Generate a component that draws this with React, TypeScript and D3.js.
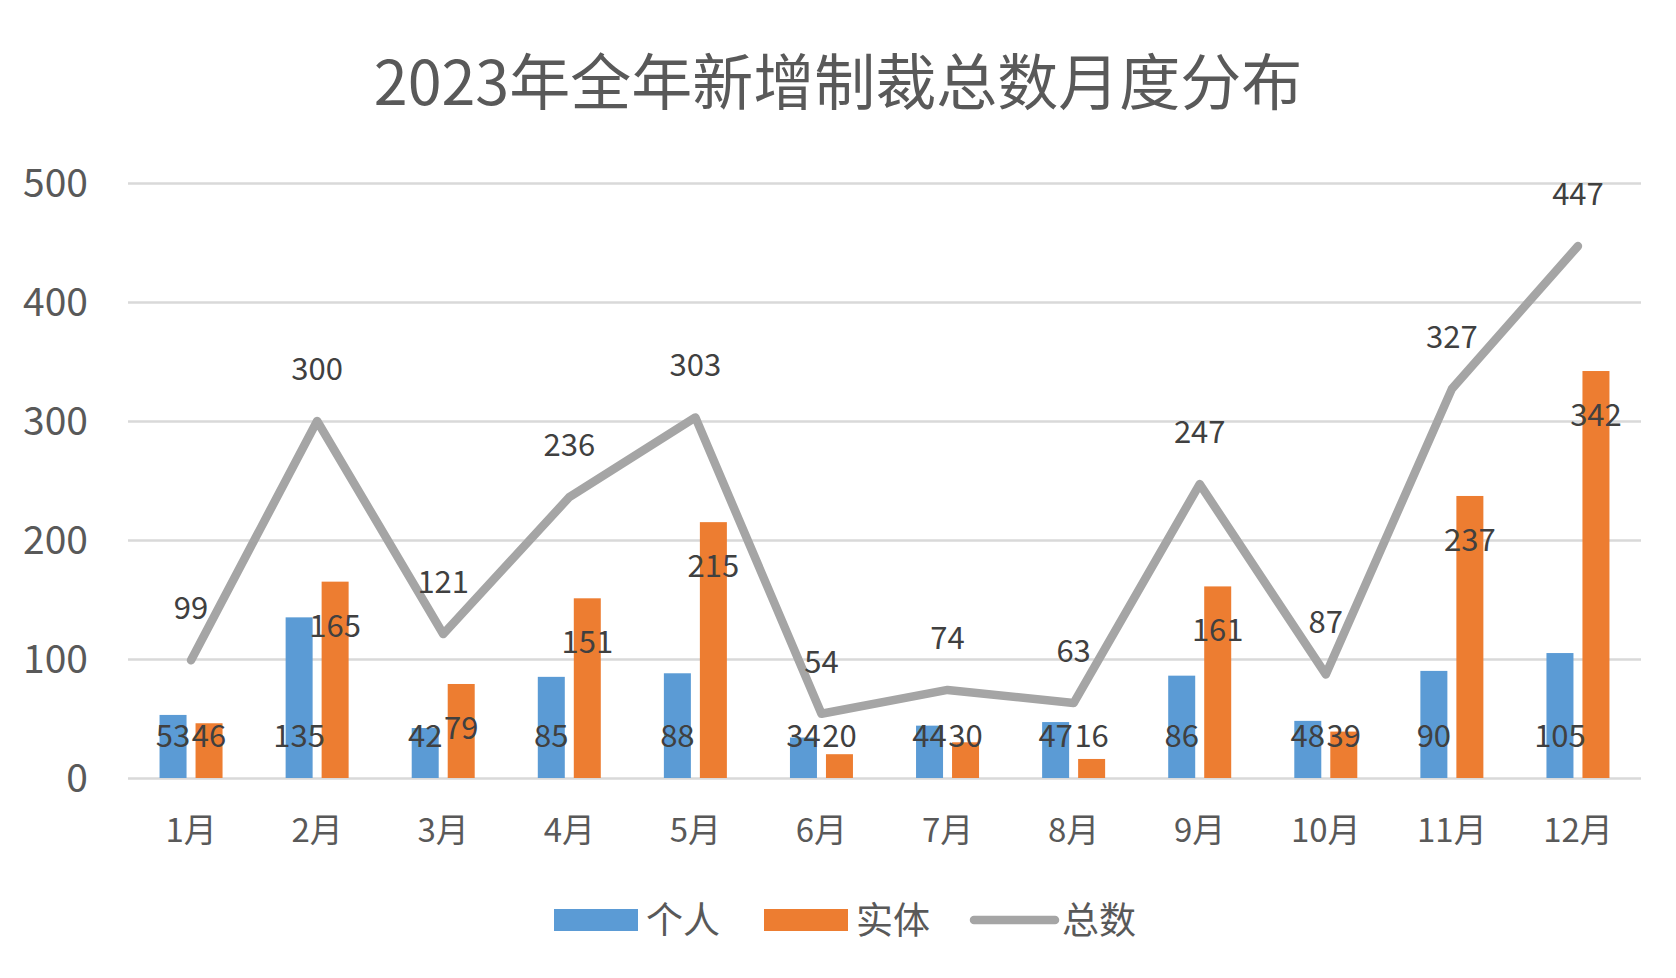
import { useEffect, useRef } from "react";
import * as d3 from "d3";

// 数据
const months = ["1月", "2月", "3月", "4月", "5月", "6月", "7月", "8月", "9月", "10月", "11月", "12月"];
const personal = [53, 135, 42, 85, 88, 34, 44, 47, 86, 48, 90, 105];
const entity = [46, 165, 79, 151, 215, 20, 30, 16, 161, 39, 237, 342];
const total = [99, 300, 121, 236, 303, 54, 74, 63, 247, 87, 327, 447];
const yTicks = [0, 100, 200, 300, 400, 500];
const seriesNames = ["个人", "实体", "总数"];

const WIDTH = 1676;
const HEIGHT = 978;
const FONT = "'Noto Sans CJK SC', 'Noto Sans', sans-serif";

const App = () => {
  const chartRef = useRef<SVGSVGElement>(null);

  useEffect(() => {
    const svg = d3.select(chartRef.current);
    svg.selectAll("*").remove();

    const left = 128;
    const right = 1641;
    const top = 183;
    const bottom = 778;

    const x = d3.scaleBand<string>().domain(months).range([left, right]);
    const x1 = d3
      .scaleBand<string>()
      .domain(seriesNames.slice(0, 2))
      .range([-31.5, 31.5])
      .paddingInner(0.25);
    const y = d3.scaleLinear().domain([0, 500]).range([bottom, top]);
    const cx = (m: string) => (x(m) ?? 0) + x.bandwidth() / 2;

    // 标题
    svg
      .append("text")
      .attr("x", WIDTH / 2)
      .attr("y", 105)
      .attr("text-anchor", "middle")
      .attr("font-family", FONT)
      .attr("font-size", 61)
      .attr("fill", "#595959")
      .text("2023年全年新增制裁总数月度分布");

    // 网格线
    const yAxis = d3
      .axisLeft(y)
      .tickValues(yTicks)
      .tickSize(-(right - left))
      .tickPadding(40)
      .tickFormat((d) => String(d));
    svg
      .append("g")
      .attr("transform", `translate(${left},0)`)
      .call(yAxis)
      .call((g) => g.select(".domain").remove())
      .call((g) => g.selectAll(".tick line").attr("stroke", "#D9D9D9").attr("stroke-width", 2.5))
      .call((g) =>
        g
          .selectAll(".tick text")
          .attr("font-family", FONT)
          .attr("font-size", 39)
          .attr("fill", "#595959")
          .attr("dy", "0.35em")
      );

    // x 轴标签
    svg
      .append("g")
      .selectAll("text")
      .data(months)
      .enter()
      .append("text")
      .attr("x", (d) => cx(d))
      .attr("y", 842)
      .attr("text-anchor", "middle")
      .attr("font-family", FONT)
      .attr("font-size", 33)
      .attr("fill", "#595959")
      .text((d) => d);

    const colors = ["#5B9BD5", "#ED7D31", "#A5A5A5"];
    const barData = [personal, entity];

    // 柱子
    barData.forEach((vals, si) => {
      svg
        .append("g")
        .selectAll("rect")
        .data(vals)
        .enter()
        .append("rect")
        .attr("x", (_, i) => cx(months[i]) + (x1(seriesNames[si]) ?? 0))
        .attr("y", (d) => y(d))
        .attr("width", x1.bandwidth())
        .attr("height", (d) => bottom - y(d))
        .attr("fill", colors[si]);
    });

    // 折线
    const line = d3
      .line<number>()
      .x((_, i) => cx(months[i]))
      .y((d) => y(d));
    svg
      .append("path")
      .datum(total)
      .attr("fill", "none")
      .attr("stroke", colors[2])
      .attr("stroke-width", 8.5)
      .attr("stroke-linejoin", "round")
      .attr("stroke-linecap", "round")
      .attr("d", line);

    // 数据标签
    const baseLabelY = bottom - 42;
    const labelStyle = (sel: d3.Selection<SVGTextElement, number, SVGGElement, unknown>) =>
      sel
        .attr("text-anchor", "middle")
        .attr("dy", "0.35em")
        .attr("font-family", FONT)
        .attr("font-size", 31)
        .attr("fill", "#404040")
        .text((d) => String(d));

    svg
      .append("g")
      .selectAll("text")
      .data(personal)
      .enter()
      .append("text")
      .attr("x", (_, i) => cx(months[i]) + (x1("个人") ?? 0) + x1.bandwidth() / 2)
      .attr("y", baseLabelY)
      .call(labelStyle);

    svg
      .append("g")
      .selectAll("text")
      .data(entity)
      .enter()
      .append("text")
      .attr("x", (_, i) => cx(months[i]) + (x1("实体") ?? 0) + x1.bandwidth() / 2)
      .attr("y", (d) => Math.min(y(d) + 44, baseLabelY))
      .call(labelStyle);

    svg
      .append("g")
      .selectAll("text")
      .data(total)
      .enter()
      .append("text")
      .attr("x", (_, i) => cx(months[i]))
      .attr("y", (d) => y(d) - 52)
      .call(labelStyle);

    // 图例
    const legend = svg.append("g");
    const legendItems = [
      { x: 554, name: seriesNames[0] },
      { x: 764, name: seriesNames[1] },
      { x: 970, name: seriesNames[2] },
    ];
    legendItems.forEach((item, i) => {
      if (i < 2) {
        legend
          .append("rect")
          .attr("x", item.x)
          .attr("y", 909)
          .attr("width", 84)
          .attr("height", 22)
          .attr("fill", colors[i]);
      } else {
        legend
          .append("line")
          .attr("x1", item.x + 4)
          .attr("x2", item.x + 85)
          .attr("y1", 920)
          .attr("y2", 920)
          .attr("stroke", colors[i])
          .attr("stroke-width", 8.5)
          .attr("stroke-linecap", "round");
      }
      legend
        .append("text")
        .attr("x", item.x + 92)
        .attr("y", 934)
        .attr("font-family", FONT)
        .attr("font-size", 37)
        .attr("fill", "#595959")
        .text(item.name);
    });
  }, []);

  return (
    <svg
      ref={chartRef}
      width={WIDTH}
      height={HEIGHT}
      style={{ position: "absolute", left: 0, top: 0, background: "#FFFFFF" }}
    />
  );
};

export default App;
